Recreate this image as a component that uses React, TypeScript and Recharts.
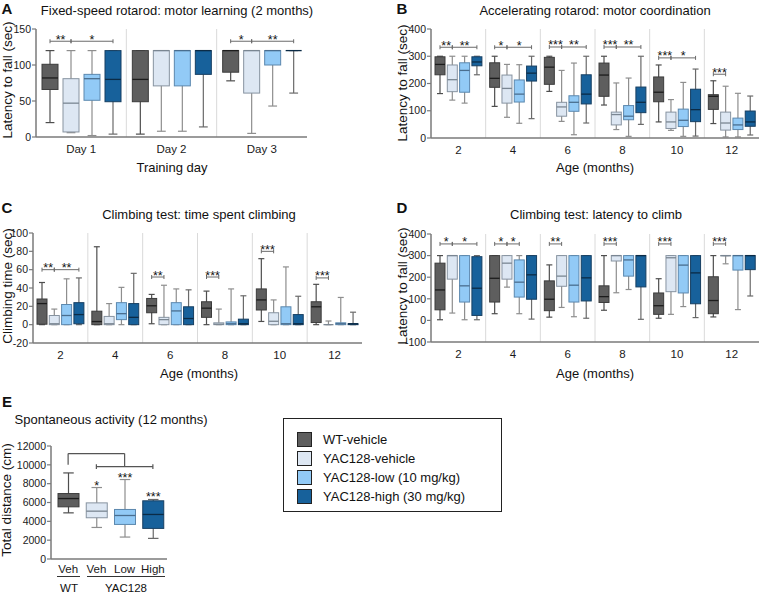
import { Bar, BarChart, ReferenceLine, XAxis, YAxis } from "recharts";

const FONT = '"Liberation Sans", Arial, Helvetica, sans-serif';
const AXIS = "#7a7a7a";

// box = [min, q1, median, q3, max]
type Box = number[];
type Sig = [number, number, string];

const groupNames = ["WT-vehicle", "YAC128-vehicle", "YAC128-low (10 mg/kg)", "YAC128-high (30 mg/kg)"];
const groupFill = ["#5e5e5e", "#dde7f3", "#92caf6", "#17619b"];
const groupEdge = ["#3c3c3c", "#8793a0", "#5c88ae", "#173f62"];
const groupMedian = ["#1c1c1c", "#7a8692", "#4a6e8f", "#0b2b46"];
const groupWhisker = ["#4e4e4e", "#8e8e8e", "#8e8e8e", "#6a6a6a"];

// A: fixed-speed rotarod
const rotarodDays = ["Day 1", "Day 2", "Day 3"];
const rotarodWT: Box[] = [[20, 66, 82, 101, 120], [4, 49, 80, 120, 120], [78, 90, 120, 120, 120]];
const rotarodVeh: Box[] = [[6, 7, 47, 81, 120], [8, 71, 120, 120, 120], [5, 61, 120, 120, 120]];
const rotarodLow: Box[] = [[2, 51, 81, 87, 120], [8, 71, 120, 120, 120], [43, 100, 120, 120, 120]];
const rotarodHigh: Box[] = [[4, 49, 80, 120, 120], [14, 87, 120, 120, 120], [61, 120, 120, 120, 120]];
const rotarodSig: Sig[][] = [[[0, 1, "**"], [1, 3, "*"]], [], [[0, 1, "*"], [1, 3, "**"]]];
const rotarodSigY = [133, 133, 133];

// B: accelerating rotarod
const ages = ["2", "4", "6", "8", "10", "12"];
const accelWT: Box[] = [[163, 232, 270, 298, 300], [116, 186, 219, 276, 300], [171, 197, 260, 296, 300], [121, 153, 231, 275, 300], [59, 133, 168, 224, 268], [53, 105, 153, 159, 210]];
const accelVeh: Box[] = [[139, 170, 214, 268, 300], [76, 128, 182, 231, 270], [61, 80, 114, 131, 248], [31, 48, 86, 95, 202], [28, 35, 59, 95, 141], [4, 29, 55, 95, 190]];
const accelLow: Box[] = [[128, 168, 248, 276, 300], [54, 132, 161, 213, 269], [12, 98, 131, 155, 275], [6, 67, 80, 119, 220], [6, 42, 65, 106, 204], [4, 31, 48, 73, 164]];
const accelHigh: Box[] = [[232, 265, 279, 298, 300], [71, 209, 238, 264, 300], [55, 125, 161, 232, 300], [50, 93, 131, 187, 300], [7, 60, 104, 179, 253], [11, 43, 59, 99, 154]];
const accelSig: Sig[][] = [
  [[0, 1, "**"], [1, 3, "**"]],
  [[0, 1, "*"], [1, 3, "*"]],
  [[0, 1, "***"], [1, 3, "**"]],
  [[0, 1, "***"], [1, 3, "**"]],
  [[0, 1, "***"], [1, 3, "*"]],
  [[0, 1, "***"]],
];
const accelSigY = [333, 333, 334, 334, 294, 234];

// C: time spent climbing
const climbWT: Box[] = [[0, 0.5, 23, 28, 46], [0, 0, 3.4, 14.7, 85], [1, 13, 20.6, 28.6, 33], [0, 8, 18, 25, 36.6], [3.5, 16, 27, 39, 72], [0, 2.3, 19.5, 25, 44]];
const climbVeh: Box[] = [[0, 0, 1, 10, 17], [0, 0, 1, 9, 23], [0, 0, 5.5, 8, 43], [0, 0, 0.5, 2, 17], [0, 0, 3.7, 13, 27], [0, 0, 0, 0, 4]];
const climbLow: Box[] = [[0, 0, 10, 22, 50], [0, 5.5, 12, 24, 40.7], [0, 0, 15, 24, 39], [0, 0, 1, 3, 39], [0, 0, 1, 19.5, 63], [0, 0, 1, 2, 29.7]];
const climbHigh: Box[] = [[0, 1, 11, 24, 51], [0, 0, 8, 23, 56], [0, 0, 6.7, 19.5, 38], [0, 0, 1, 6, 31.5], [0, 0, 1, 11, 31], [0, 0, 1, 1, 13.6]];
const climbSig: Sig[][] = [[[0, 1, "**"], [1, 3, "**"]], [], [[0, 1, "**"]], [[0, 1, "***"]], [[0, 1, "***"]], [[0, 1, "***"]]];
const climbSigY = [60, 60, 52, 52, 80, 51];

// D: latency to climb
const latWT: Box[] = [[3, 49, 141, 265, 300], [31, 85, 195, 300, 300], [15, 45, 98, 183, 257], [47, 83, 110, 160, 300], [10, 28, 68, 127, 193], [16, 31, 92, 202, 300]];
const latVeh: Box[] = [[34, 191, 300, 300, 300], [154, 191, 265, 300, 300], [60, 158, 205, 300, 300], [128, 275, 300, 300, 300], [28, 133, 290, 300, 300], [262, 299, 300, 300, 300]];
const latLow: Box[] = [[3, 85, 160, 300, 300], [31, 108, 177, 280, 300], [17, 85, 163, 300, 300], [143, 205, 280, 300, 300], [64, 127, 256, 300, 300], [50, 233, 300, 300, 300]];
const latHigh: Box[] = [[3, 23, 149, 295, 300], [6, 98, 211, 300, 300], [10, 90, 197, 300, 300], [5, 155, 300, 300, 300], [13, 77, 220, 300, 300], [113, 235, 300, 300, 300]];
const latSig: Sig[][] = [[[0, 1, "*"], [1, 3, "*"]], [[0, 1, "*"], [1, 2, "*"]], [[0, 1, "**"]], [[0, 1, "***"]], [[0, 1, "***"]], [[0, 1, "***"]]];
const latSigY = [354, 354, 354, 354, 354, 354];

// E: spontaneous activity
const distKeys = ["WT Veh", "YAC Veh", "YAC Low", "YAC High"];
const distTicks = ["Veh", "Veh", "Low", "High"];
const distBoxes: Box[] = [[4900, 5540, 6420, 6950, 9140], [3350, 4380, 5080, 5960, 7590], [2330, 3670, 4620, 5260, 8440], [2190, 3250, 4730, 6180, 6320]];
const distStars = ["", "*", "***", "***"];

interface Row {
  cat: string;
  boxes: Box[];
  sig: Sig[];
  sigY: number;
}

function makeRows(cats: string[], series: Box[][], sig: Sig[][], sigY: number[]): Row[] {
  return cats.map((cat, i) => ({ cat, boxes: series.map((s) => s[i]), sig: sig[i], sigY: sigY[i] }));
}

const rangeKeys = [0, 1, 2, 3].map((g) => (r: Row) => [r.boxes[g][0], r.boxes[g][4]]);

function drawBox(props: any, box: Box, g: number, capRatio: number) {
  const { x, y, width, height } = props;
  const [mn, q1, md, q3, mx] = box;
  const top = Math.min(y, y + height);
  const bot = Math.max(y, y + height);
  const py = (v: number) => bot - ((v - mn) / (mx - mn)) * (bot - top);
  const cx = x + width / 2;
  const cap = (width * capRatio) / 2;
  return {
    py,
    cx,
    el: (
      <g>
        <line x1={cx} x2={cx} y1={py(mx)} y2={py(mn)} stroke={groupWhisker[g]} strokeWidth={1.2} />
        <line x1={cx - cap} x2={cx + cap} y1={py(mx)} y2={py(mx)} stroke={groupWhisker[g]} strokeWidth={1.2} />
        <line x1={cx - cap} x2={cx + cap} y1={py(mn)} y2={py(mn)} stroke={groupWhisker[g]} strokeWidth={1.2} />
        <rect x={x} y={py(q3)} width={width} height={Math.max(py(q1) - py(q3), 0)} fill={groupFill[g]} stroke={groupEdge[g]} strokeWidth={1} />
        <line x1={x} x2={x + width} y1={py(md)} y2={py(md)} stroke={groupMedian[g]} strokeWidth={1.3} />
      </g>
    ),
  };
}

function boxShape(g: number, gap: number, capRatio: number) {
  return function BoxShape(props: any) {
    const payload: Row | undefined = props.payload;
    if (!payload) return <g />;
    const { py, cx, el } = drawBox(props, payload.boxes[g], g, capRatio);
    const pitch = props.width + gap;
    return (
      <g>
        {el}
        {g === 0 &&
          payload.sig.map(([a, b, label], k) => {
            const xa = cx + a * pitch;
            const xb = cx + b * pitch;
            const yy = py(payload.sigY);
            return (
              <g key={k}>
                <line x1={xa} x2={xb} y1={yy} y2={yy} stroke="#6a6a6a" strokeWidth={1} />
                <line x1={xa} x2={xa} y1={yy - 2} y2={yy + 2} stroke="#6a6a6a" strokeWidth={1} />
                <line x1={xb} x2={xb} y1={yy - 2} y2={yy + 2} stroke="#6a6a6a" strokeWidth={1} />
                <text x={(xa + xb) / 2} y={yy + 2.5} textAnchor="middle" fontSize={12.5} fill="#111">
                  {label}
                </text>
              </g>
            );
          })}
      </g>
    );
  };
}

interface PanelProps {
  data: Row[];
  left: number;
  top: number;
  width: number;
  height: number;
  yWidth: number;
  marginTop: number;
  marginRight: number;
  xHeight: number;
  domain: [number, number];
  ticks: number[];
  barSize: number;
  gap: number;
  capRatio: number;
}

function BoxPanel(p: PanelProps) {
  const shapes = [0, 1, 2, 3].map((g) => boxShape(g, p.gap, p.capRatio));
  return (
    <div style={{ position: "absolute", left: p.left, top: p.top }}>
      <BarChart
        width={p.width}
        height={p.height}
        data={p.data}
        margin={{ top: p.marginTop, right: p.marginRight, bottom: 0, left: 0 }}
        barGap={p.gap}
      >
        <XAxis
          dataKey="cat"
          height={p.xHeight}
          tickLine={false}
          axisLine={{ stroke: AXIS, strokeWidth: 1.5 }}
          tick={{ fontSize: 11.5, fill: "#1a1a1a" }}
          interval={0}
        />
        <YAxis
          width={p.yWidth}
          domain={p.domain}
          ticks={p.ticks}
          allowDataOverflow
          axisLine={{ stroke: AXIS, strokeWidth: 1.5 }}
          tickLine={{ stroke: AXIS, strokeWidth: 1.2 }}
          tickSize={4}
          tickMargin={1}
          tick={{ fontSize: 10.5, fill: "#1a1a1a" }}
        />
        {p.data.slice(0, -1).map((d) => (
          <ReferenceLine key={d.cat} x={d.cat} position="end" stroke="#dadada" strokeWidth={1} />
        ))}
        {[0, 1, 2, 3].map((g) => (
          <Bar
            key={g}
            dataKey={rangeKeys[g]}
            barSize={p.barSize}
            shape={shapes[g]}
            isAnimationActive={false}
          />
        ))}
      </BarChart>
    </div>
  );
}

interface DistRow {
  cat: string;
  g: number;
  box: Box;
  star: string;
}

const distRows: DistRow[] = distKeys.map((cat, i) => ({ cat, g: i, box: distBoxes[i], star: distStars[i] }));
const distKey = (r: DistRow) => [r.box[0], r.box[4]];

function DistShape(props: any) {
  const r: DistRow | undefined = props.payload;
  if (!r) return <g />;
  const { py, cx, el } = drawBox(props, r.box, r.g, 0.5);
  return (
    <g>
      {el}
      {r.star && (
        <text x={cx} y={py(r.box[4]) + 2} textAnchor="middle" fontSize={12.5} fill="#111">
          {r.star}
        </text>
      )}
    </g>
  );
}

function DistPanel() {
  const st = { stroke: "#555", strokeWidth: 1.2 };
  return (
    <div style={{ position: "absolute", left: 0, top: 430 }}>
      <BarChart width={180} height={145} data={distRows} margin={{ top: 16, right: 13, bottom: 0, left: 0 }}>
        <XAxis
          dataKey="cat"
          height={16}
          tickLine={false}
          padding={{ left: 3, right: 0 }}
          axisLine={{ stroke: AXIS, strokeWidth: 1.5 }}
          tick={{ fontSize: 11.5, fill: "#1a1a1a" }}
          tickSize={4}
          tickFormatter={(v: string) => distTicks[distKeys.indexOf(v)]}
          interval={0}
        />
        <YAxis
          width={51}
          domain={[0, 12000]}
          ticks={[0, 2000, 4000, 6000, 8000, 10000, 12000]}
          axisLine={{ stroke: AXIS, strokeWidth: 1.5 }}
          tickLine={{ stroke: AXIS, strokeWidth: 1.2 }}
          tickSize={4}
          tickMargin={1}
          tick={{ fontSize: 10.5, fill: "#1a1a1a" }}
        />
        <ReferenceLine segment={[{ x: "WT Veh", y: 10000 }, { x: "WT Veh", y: 11200 }]} {...st} />
        <ReferenceLine segment={[{ x: "WT Veh", y: 11200 }, { x: "YAC Low", y: 11200 }]} {...st} />
        <ReferenceLine segment={[{ x: "YAC Low", y: 11200 }, { x: "YAC Low", y: 9800 }]} {...st} />
        <ReferenceLine segment={[{ x: "YAC Veh", y: 9800 }, { x: "YAC High", y: 9800 }]} {...st} />
        <ReferenceLine segment={[{ x: "YAC Veh", y: 9550 }, { x: "YAC Veh", y: 10050 }]} {...st} />
        <ReferenceLine segment={[{ x: "YAC High", y: 9550 }, { x: "YAC High", y: 10050 }]} {...st} />
        <Bar dataKey={distKey} barSize={21} shape={DistShape} isAnimationActive={false} />
      </BarChart>
    </div>
  );
}

function Txt({ x, y, size, bold, rotate, children }: { x: number; y: number; size: number; bold?: boolean; rotate?: boolean; children: any }) {
  return (
    <div
      style={{
        position: "absolute",
        left: x,
        top: y,
        fontSize: size,
        fontWeight: bold ? 700 : 400,
        whiteSpace: "nowrap",
        lineHeight: 1,
        color: "#111",
        transform: `translate(-50%, -50%)${rotate ? " rotate(-90deg)" : ""}`,
      }}
    >
      {children}
    </div>
  );
}

const dataA = makeRows(rotarodDays, [rotarodWT, rotarodVeh, rotarodLow, rotarodHigh], rotarodSig, rotarodSigY);
const dataB = makeRows(ages, [accelWT, accelVeh, accelLow, accelHigh], accelSig, accelSigY);
const dataC = makeRows(ages, [climbWT, climbVeh, climbLow, climbHigh], climbSig, climbSigY);
const dataD = makeRows(ages, [latWT, latVeh, latLow, latHigh], latSig, latSigY);

export default function App() {
  return (
    <div
      style={{
        position: "absolute",
        left: 0,
        top: 0,
        width: 759,
        height: 594,
        background: "#fff",
        overflow: "hidden",
        fontFamily: FONT,
      }}
    >
      <BoxPanel data={dataA} left={0} top={0} width={320} height={160} yWidth={36} marginTop={29} marginRight={13} xHeight={23}
        domain={[0, 150]} ticks={[0, 50, 100, 150]} barSize={16} gap={5} capRatio={0.55} />
      <BoxPanel data={dataB} left={380} top={0} width={379} height={160} yWidth={51} marginTop={29} marginRight={0} xHeight={22}
        domain={[0, 400]} ticks={[0, 100, 200, 300, 400]} barSize={10} gap={2.3} capRatio={0.6} />
      <BoxPanel data={dataC} left={0} top={210} width={370} height={150} yWidth={33} marginTop={23} marginRight={8} xHeight={17}
        domain={[-20, 100]} ticks={[-20, 0, 20, 40, 60, 80, 100]} barSize={10} gap={2.3} capRatio={0.6} />
      <BoxPanel data={dataD} left={380} top={210} width={379} height={150} yWidth={51} marginTop={24} marginRight={0} xHeight={18}
        domain={[-100, 400]} ticks={[-100, 0, 100, 200, 300, 400]} barSize={10} gap={2.3} capRatio={0.6} />
      <DistPanel />

      <Txt x={7} y={8} size={15} bold>A</Txt>
      <Txt x={402} y={8} size={15} bold>B</Txt>
      <Txt x={7} y={207} size={15} bold>C</Txt>
      <Txt x={402} y={207} size={15} bold>D</Txt>
      <Txt x={7} y={401} size={15} bold>E</Txt>

      <Txt x={177} y={10} size={13}>Fixed-speed rotarod: motor learning (2 months)</Txt>
      <Txt x={595} y={10} size={13}>Accelerating rotarod: motor coordination</Txt>
      <Txt x={199} y={214} size={13}>Climbing test: time spent climbing</Txt>
      <Txt x={596} y={214} size={13}>Climbing test: latency to climb</Txt>
      <Txt x={111} y={419} size={13}>Spontaneous activity (12 months)</Txt>

      <Txt x={8} y={80} size={13.5} rotate>Latency to fall (sec)</Txt>
      <Txt x={403} y={83} size={13.5} rotate>Latency to fall (sec)</Txt>
      <Txt x={8} y={286} size={13.5} rotate>Climbing time (sec)</Txt>
      <Txt x={403} y={286} size={13.5} rotate>Latency to fall (sec)</Txt>
      <Txt x={7} y={500} size={13.5} rotate>Total distance (cm)</Txt>

      <Txt x={172} y={167} size={13}>Training day</Txt>
      <Txt x={595} y={167} size={13}>Age (months)</Txt>
      <Txt x={199} y={373} size={13}>Age (months)</Txt>
      <Txt x={595} y={373} size={13}>Age (months)</Txt>

      <div style={{ position: "absolute", left: 57, top: 576, width: 23, borderTop: "1px solid #333" }} />
      <div style={{ position: "absolute", left: 87, top: 576, width: 78, borderTop: "1px solid #333" }} />
      <Txt x={69} y={589} size={11.5}>WT</Txt>
      <Txt x={126} y={589} size={11.5}>YAC128</Txt>

      <div
        style={{
          position: "absolute",
          left: 283,
          top: 418,
          width: 219,
          height: 94,
          boxSizing: "border-box",
          border: "1.5px solid #222",
        }}
      >
        {groupNames.map((name, i) => (
          <div key={name} style={{ position: "absolute", left: 13, top: 12 + i * 19, height: 16, display: "flex", alignItems: "center" }}>
            <div style={{ width: 15, height: 15, boxSizing: "border-box", background: groupFill[i], border: "1.5px solid #222" }} />
            <span style={{ marginLeft: 11, fontSize: 13, color: "#111" }}>{name}</span>
          </div>
        ))}
      </div>
    </div>
  );
}
